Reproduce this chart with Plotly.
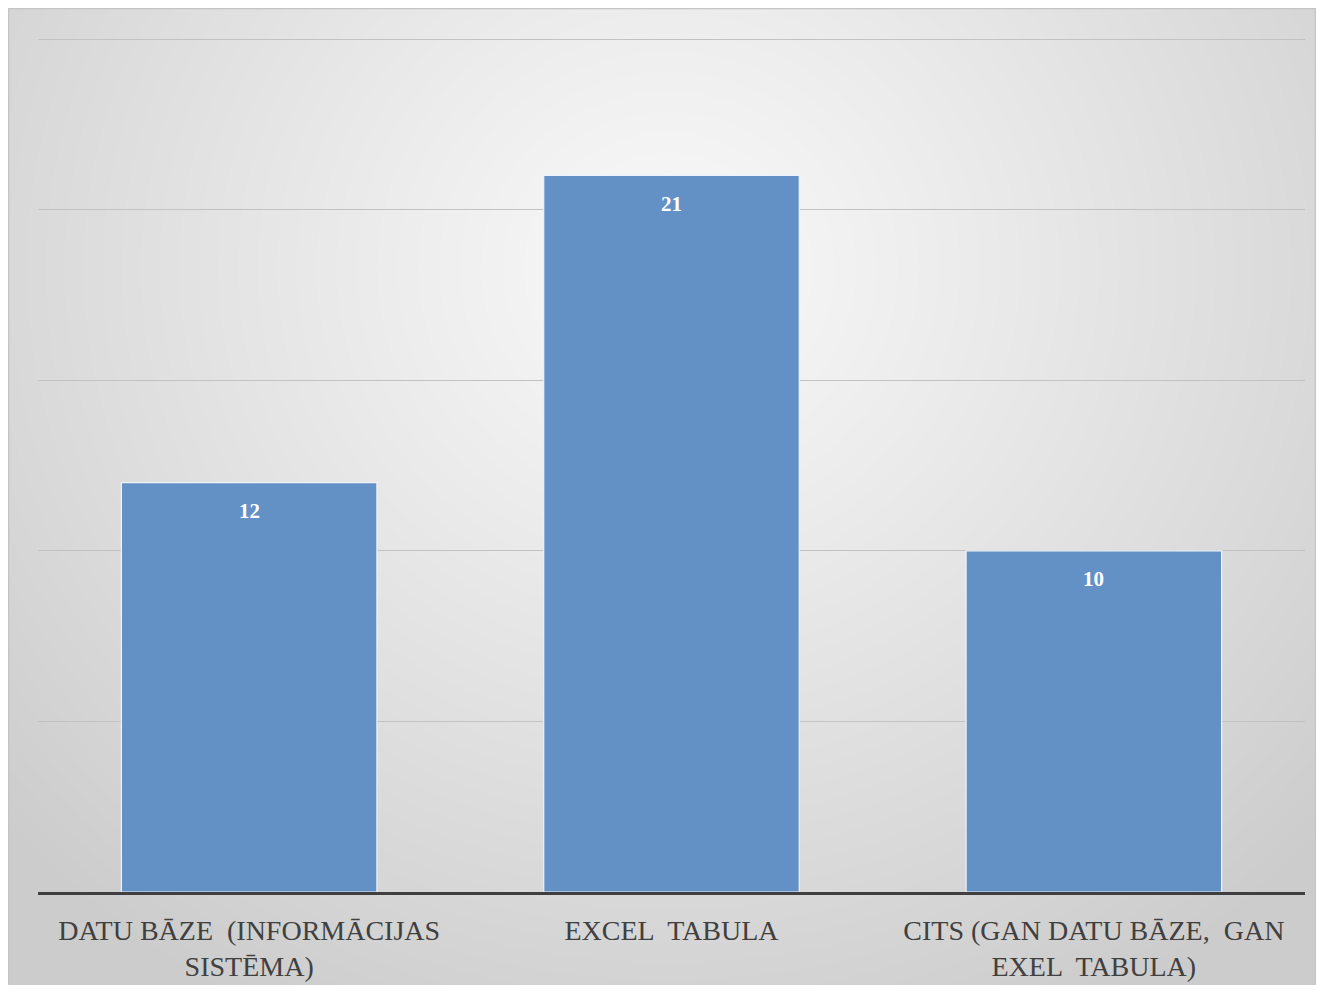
import base64, struct, zlib
import numpy as np
import plotly.graph_objects as go

categories = ["DATU BĀZE  (INFORMĀCIJAS<br>SISTĒMA)", "EXCEL  TABULA", "CITS (GAN DATU BĀZE,  GAN<br>EXEL  TABULA)"]
values = [12, 21, 10]
value_labels = ["12", "21", "10"]

# figure size (page has an 8px body margin)
FW, FH = 1308, 977
L, R, T, B = 30, 11, 30, 93
pw, ph = FW - L - R, FH - T - B
def px(x): return (x - L) / pw
def py(y): return (FH - B - y) / ph

# --- radial gradient background image (PNG, built in memory) ---
W, H = 1308, 982
yy, xx = np.mgrid[0:H, 0:W]
cx, cy = 660, 260
d = np.sqrt(((xx - cx) / 900.0) ** 2 + ((yy - cy) / 850.0) ** 2)
d = np.clip(d, 0, 1)
val = (249 - (249 - 204) * d ** 1.1).astype(np.uint8)
raw = b"".join(b"\x00" + np.repeat(val[r][:, None], 3, axis=1).tobytes() for r in range(H))
def chunk(t, data):
    c = struct.pack(">I", len(data)) + t + data
    return c + struct.pack(">I", zlib.crc32(t + data) & 0xffffffff)
png = b"\x89PNG\r\n\x1a\n" + chunk(b"IHDR", struct.pack(">IIBBBBB", W, H, 8, 2, 0, 0, 0)) \
      + chunk(b"IDAT", zlib.compress(raw, 9)) + chunk(b"IEND", b"")
src = "data:image/png;base64," + base64.b64encode(png).decode()

fig = go.Figure()
fig.add_trace(go.Bar(
    x=categories, y=values,
    marker=dict(color="#6491c5", line=dict(color="#eef3f9", width=1.2)),
    width=0.605,
    hoverinfo="skip",
))
for c, v, t in zip(categories, values, value_labels):
    fig.add_annotation(x=c, y=v, text="<b>%s</b>" % t, showarrow=False,
                       yanchor="top", yshift=-14,
                       font=dict(family="Liberation Serif", size=21, color="white"))

fig.add_layout_image(dict(source=src, xref="paper", yref="paper",
                          x=px(0), y=py(0), sizex=px(FW) - px(0), sizey=py(0) - py(982),
                          xanchor="left", yanchor="top", sizing="stretch", layer="below"))
fig.add_shape(type="rect", xref="paper", yref="paper", x0=px(0.5), x1=px(FW - 0.5), y0=py(981), y1=py(0.5),
              line=dict(color="#c4c4c4", width=1.5), fillcolor="rgba(0,0,0,0)", layer="below")

fig.update_layout(
    width=FW, height=FH,
    margin=dict(l=L, r=R, t=T, b=B),
    paper_bgcolor="white", plot_bgcolor="rgba(0,0,0,0)",
    showlegend=False,
    xaxis=dict(showgrid=False, showline=True, linecolor="#3f3f3f", linewidth=3,
               tickfont=dict(family="Liberation Serif", size=28, color="#404040"),
               ticks="", ticklabelstandoff=11, automargin=False),
    yaxis=dict(range=[0, 25.03], dtick=5, showgrid=True, gridcolor="#c2c2c2", gridwidth=1.2,
               showticklabels=False, zeroline=False, showline=False, automargin=False),
)
fig.write_html("out.html")
